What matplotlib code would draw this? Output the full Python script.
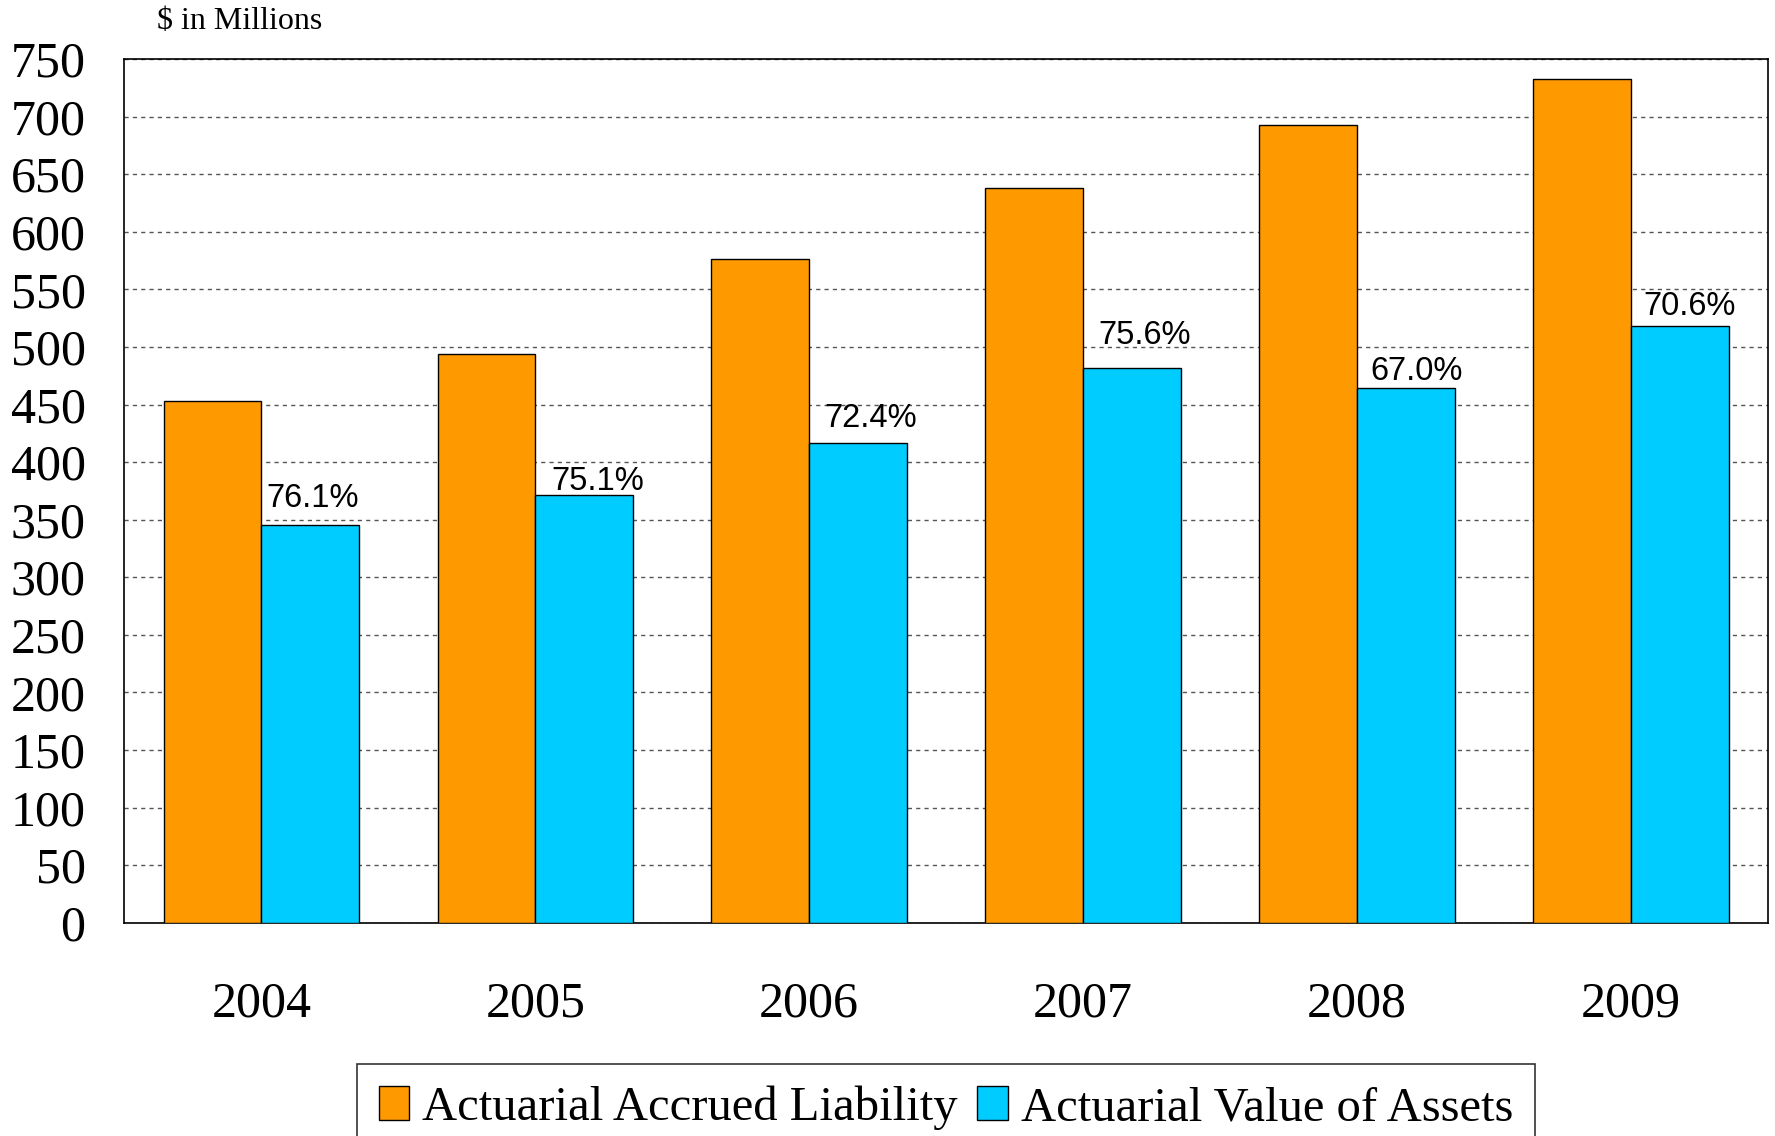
import numpy as np
import matplotlib.pyplot as plt

years = ['2004', '2005', '2006', '2007', '2008', '2009']
liability = [453, 494, 576, 638, 693, 733]
assets = [345, 371, 417, 482, 464, 518]
funded = ['76.1%', '75.1%', '72.4%', '75.6%', '67.0%', '70.6%']
label_dx = [2, 10, 9, 9, 8, 7]  # points right of bar centre
label_lift = [8, -1, 6, 12, 1, 3]  # points above bar top

fig = plt.figure(figsize=(17.75, 11.36), dpi=100)
ax = fig.add_axes([0.0701, 0.1878, 0.9259, 0.7602])

x = np.arange(len(years))
w = 0.357
b1 = ax.bar(x - w / 2, liability, w, color='#FF9900', edgecolor='black',
            linewidth=1.0, label='Actuarial Accrued Liability', zorder=3)
b2 = ax.bar(x + w / 2, assets, w, color='#00CCFF', edgecolor='black',
            linewidth=1.0, label='Actuarial Value of Assets', zorder=3)

for xi, v, txt, dx, lift in zip(x, assets, funded, label_dx, label_lift):
    ax.annotate(txt, (xi + w / 2, v), xytext=(dx, lift), textcoords='offset points',
                ha='center', va='bottom', fontsize=23.5, family='Liberation Sans',
                zorder=4)

ax.set_xlim(-0.5, 5.5)
ax.set_ylim(0, 750)
ax.set_yticks(range(0, 751, 50))
ax.set_xticks(x)
ax.set_xticklabels(years)
ax.tick_params(axis='both', length=0, labelsize=36)
ax.tick_params(axis='y', pad=28)
ax.tick_params(axis='x', pad=42)
for lab in ax.get_xticklabels() + ax.get_yticklabels():
    lab.set_family('Liberation Serif')

ax.yaxis.grid(True, linestyle=(0, (3, 3)), color='#555555', linewidth=1.0, zorder=0)
ax.set_axisbelow(True)
for s in ax.spines.values():
    s.set_linewidth(1.2)
    s.set_color('black')

fig.text(0.135, 0.981, '$ in Millions', ha='center', va='center',
         fontsize=23, family='Liberation Serif')

leg = fig.legend(handles=[b1, b2], loc='upper center', bbox_to_anchor=(0.533, 0.0634),
                 ncol=2, frameon=True, fancybox=False, edgecolor='black',
                 prop={'family': 'Liberation Serif', 'size': 35},
                 handlelength=0.62, handleheight=0.7, handletextpad=0.28,
                 columnspacing=0.4, borderpad=0.45, borderaxespad=0)
leg.get_frame().set_linewidth(1.2)

fig.savefig('out.png', dpi=100)
